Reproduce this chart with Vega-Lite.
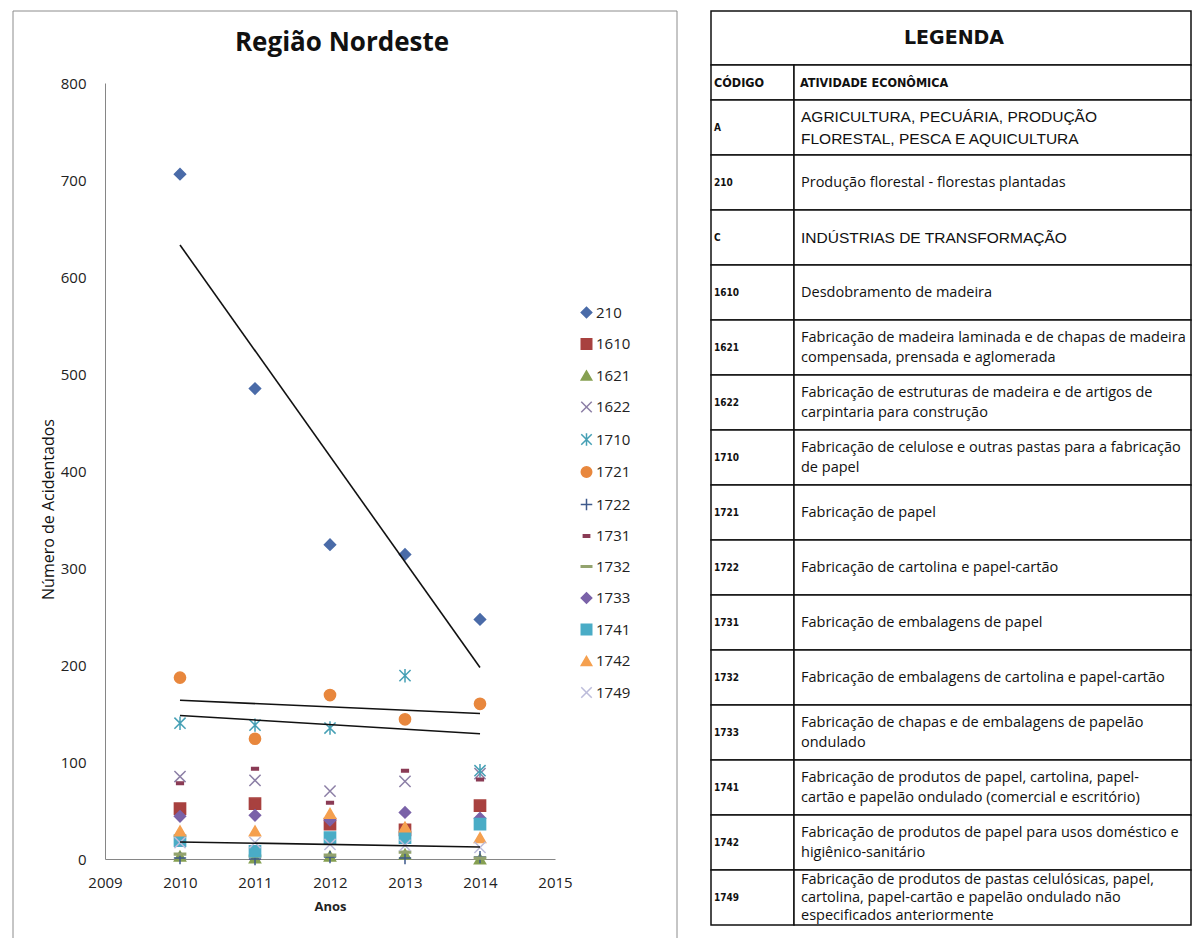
{
  "$schema": "https://vega.github.io/schema/vega-lite/v6.json",
  "padding": {"left": 12, "top": 10, "right": 0, "bottom": 0},
  "background": "white",
  "config": {
    "view": {"stroke": null},
    "font": "Open Sans",
    "axis": {"labelFont": "Open Sans", "titleFont": "Open Sans"},
    "legend": {"labelFont": "Open Sans"}
  },
  "datasets": {
    "acidentes": [
      {"codigo": "210", "ano": 2010, "acidentes": 706},
      {"codigo": "210", "ano": 2011, "acidentes": 485},
      {"codigo": "210", "ano": 2012, "acidentes": 324},
      {"codigo": "210", "ano": 2013, "acidentes": 314},
      {"codigo": "210", "ano": 2014, "acidentes": 247},
      {"codigo": "1610", "ano": 2010, "acidentes": 52},
      {"codigo": "1610", "ano": 2011, "acidentes": 57},
      {"codigo": "1610", "ano": 2012, "acidentes": 36},
      {"codigo": "1610", "ano": 2013, "acidentes": 30},
      {"codigo": "1610", "ano": 2014, "acidentes": 55},
      {"codigo": "1621", "ano": 2010, "acidentes": 3},
      {"codigo": "1621", "ano": 2011, "acidentes": 1},
      {"codigo": "1621", "ano": 2012, "acidentes": 3},
      {"codigo": "1621", "ano": 2013, "acidentes": 5},
      {"codigo": "1621", "ano": 2014, "acidentes": 0},
      {"codigo": "1622", "ano": 2010, "acidentes": 85},
      {"codigo": "1622", "ano": 2011, "acidentes": 81},
      {"codigo": "1622", "ano": 2012, "acidentes": 70},
      {"codigo": "1622", "ano": 2013, "acidentes": 80},
      {"codigo": "1622", "ano": 2014, "acidentes": 88},
      {"codigo": "1710", "ano": 2010, "acidentes": 140},
      {"codigo": "1710", "ano": 2011, "acidentes": 138},
      {"codigo": "1710", "ano": 2012, "acidentes": 135},
      {"codigo": "1710", "ano": 2013, "acidentes": 189},
      {"codigo": "1710", "ano": 2014, "acidentes": 91},
      {"codigo": "1721", "ano": 2010, "acidentes": 187},
      {"codigo": "1721", "ano": 2011, "acidentes": 124},
      {"codigo": "1721", "ano": 2012, "acidentes": 169},
      {"codigo": "1721", "ano": 2013, "acidentes": 144},
      {"codigo": "1721", "ano": 2014, "acidentes": 160},
      {"codigo": "1722", "ano": 2010, "acidentes": 1},
      {"codigo": "1722", "ano": 2011, "acidentes": 0},
      {"codigo": "1722", "ano": 2012, "acidentes": 2},
      {"codigo": "1722", "ano": 2013, "acidentes": 1},
      {"codigo": "1722", "ano": 2014, "acidentes": 2},
      {"codigo": "1731", "ano": 2010, "acidentes": 78},
      {"codigo": "1731", "ano": 2011, "acidentes": 93},
      {"codigo": "1731", "ano": 2012, "acidentes": 58},
      {"codigo": "1731", "ano": 2013, "acidentes": 91},
      {"codigo": "1731", "ano": 2014, "acidentes": 82},
      {"codigo": "1732", "ano": 2010, "acidentes": 5},
      {"codigo": "1732", "ano": 2011, "acidentes": 3},
      {"codigo": "1732", "ano": 2012, "acidentes": 4},
      {"codigo": "1732", "ano": 2013, "acidentes": 7},
      {"codigo": "1732", "ano": 2014, "acidentes": 1},
      {"codigo": "1733", "ano": 2010, "acidentes": 44},
      {"codigo": "1733", "ano": 2011, "acidentes": 45},
      {"codigo": "1733", "ano": 2012, "acidentes": 40},
      {"codigo": "1733", "ano": 2013, "acidentes": 48},
      {"codigo": "1733", "ano": 2014, "acidentes": 42},
      {"codigo": "1741", "ano": 2010, "acidentes": 19},
      {"codigo": "1741", "ano": 2011, "acidentes": 8},
      {"codigo": "1741", "ano": 2012, "acidentes": 22},
      {"codigo": "1741", "ano": 2013, "acidentes": 22},
      {"codigo": "1741", "ano": 2014, "acidentes": 36},
      {"codigo": "1742", "ano": 2010, "acidentes": 29},
      {"codigo": "1742", "ano": 2011, "acidentes": 29},
      {"codigo": "1742", "ano": 2012, "acidentes": 47},
      {"codigo": "1742", "ano": 2013, "acidentes": 33},
      {"codigo": "1742", "ano": 2014, "acidentes": 22},
      {"codigo": "1749", "ano": 2010, "acidentes": 17},
      {"codigo": "1749", "ano": 2011, "acidentes": 17},
      {"codigo": "1749", "ano": 2012, "acidentes": 15},
      {"codigo": "1749", "ano": 2013, "acidentes": 14},
      {"codigo": "1749", "ano": 2014, "acidentes": 12}
    ],
    "legenda": [
      {"codigo": "A", "atividade": "AGRICULTURA, PECUÁRIA, PRODUÇÃO\nFLORESTAL, PESCA E AQUICULTURA", "nivel": "seção"},
      {"codigo": "210", "atividade": "Produção florestal - florestas plantadas", "nivel": "classe"},
      {"codigo": "C", "atividade": "INDÚSTRIAS DE TRANSFORMAÇÃO", "nivel": "seção"},
      {"codigo": "1610", "atividade": "Desdobramento de madeira", "nivel": "classe"},
      {"codigo": "1621", "atividade": "Fabricação de madeira laminada e de chapas de madeira\ncompensada, prensada e aglomerada", "nivel": "classe"},
      {"codigo": "1622", "atividade": "Fabricação de estruturas de madeira e de artigos de\ncarpintaria para construção", "nivel": "classe"},
      {"codigo": "1710", "atividade": "Fabricação de celulose e outras pastas para a fabricação\nde papel", "nivel": "classe"},
      {"codigo": "1721", "atividade": "Fabricação de papel", "nivel": "classe"},
      {"codigo": "1722", "atividade": "Fabricação de cartolina e papel-cartão", "nivel": "classe"},
      {"codigo": "1731", "atividade": "Fabricação de embalagens de papel", "nivel": "classe"},
      {"codigo": "1732", "atividade": "Fabricação de embalagens de cartolina e papel-cartão", "nivel": "classe"},
      {"codigo": "1733", "atividade": "Fabricação de chapas e de embalagens de papelão\nondulado", "nivel": "classe"},
      {"codigo": "1741", "atividade": "Fabricação de produtos de papel, cartolina, papel-\ncartão e papelão ondulado (comercial e escritório)", "nivel": "classe"},
      {"codigo": "1742", "atividade": "Fabricação de produtos de papel para usos doméstico e\nhigiênico-sanitário", "nivel": "classe"},
      {"codigo": "1749", "atividade": "Fabricação de produtos de pastas celulósicas, papel,\ncartolina, papel-cartão e papelão ondulado não\nespecificados anteriormente", "nivel": "classe"}
    ]
  },
  "spacing": 32,
  "hconcat": [
    {
      "spacing": 0,
      "bounds": "flush",
      "vconcat": [
        {
          "width": 450,
          "height": 72,
          "data": {"values": [{"titulo": "Região Nordeste"}]},
          "layer": [
            {
              "mark": {"type": "rect", "x": -92, "x2": 572, "y": 0, "y2": 945, "fill": "transparent", "stroke": "#8c8c8c", "strokeWidth": 1},
              "encoding": {}
            },
            {
              "mark": {"type": "text", "fontWeight": "bold", "fontSize": 26, "align": "center", "baseline": "middle", "color": "#111"},
              "encoding": {"text": {"field": "titulo"}, "x": {"value": 237}, "y": {"value": 32}}
            }
          ]
        },
        {
          "width": 450,
          "height": 776,
          "data": {"name": "acidentes"},
          "encoding": {
            "x": {
              "field": "ano", "type": "quantitative",
              "scale": {"domain": [2009, 2015], "nice": false, "zero": false},
              "axis": {
                "title": "Anos", "values": [2009, 2010, 2011, 2012, 2013, 2014, 2015], "format": "d",
                "grid": false, "ticks": false, "labelFlush": false, "domainColor": "#868686",
                "labelFontSize": 15, "labelColor": "#222", "labelPadding": 16,
                "titleFontSize": 13, "titleFontWeight": "bold", "titleColor": "#222", "titlePadding": 10
              }
            },
            "y": {
              "field": "acidentes", "type": "quantitative",
              "scale": {"domain": [0, 800], "nice": false},
              "axis": {
                "title": "Número de Acidentados", "values": [0, 100, 200, 300, 400, 500, 600, 700, 800], "format": "d",
                "grid": false, "ticks": false, "domainColor": "#868686",
                "labelFontSize": 15, "labelColor": "#222", "labelPadding": 19,
                "titleFontSize": 16, "titleFontWeight": "normal", "titleColor": "#111",
                "titleX": -57, "titleY": 426, "titleBaseline": "middle", "titleAlign": "center"
              }
            }
          },
          "layer": [
            {
              "mark": {"type": "point", "filled": true, "opacity": 1, "size": 125, "strokeWidth": 1.5},
              "encoding": {
                "fill": {
                  "field": "codigo", "type": "nominal",
                  "scale": {
                    "domain": ["210", "1610", "1621", "1622", "1710", "1721", "1722", "1731", "1732", "1733", "1741", "1742", "1749"],
                    "range": ["#4a6ba8", "#a8413f", "#86a052", "#8c7fa6", "#46a0b5", "#e8873d", "#3e5a8c", "#8a3b55", "#93a36e", "#7a62a8", "#4aacc6", "#f5a04f", "#bcbcda"]
                  },
                  "legend": {"title": null, "orient": "none", "legendX": 474, "legendY": 294, "labelFontSize": 15, "labelColor": "#222", "symbolSize": 110, "symbolStrokeWidth": 1.5, "rowPadding": 14.5, "labelOffset": 2, "padding": 0}
                },
                "stroke": {
                  "field": "codigo", "type": "nominal",
                  "scale": {
                    "domain": ["210", "1610", "1621", "1622", "1710", "1721", "1722", "1731", "1732", "1733", "1741", "1742", "1749"],
                    "range": ["#4a6ba8", "#a8413f", "#86a052", "#8c7fa6", "#46a0b5", "#e8873d", "#3e5a8c", "#8a3b55", "#93a36e", "#7a62a8", "#4aacc6", "#f5a04f", "#bcbcda"]
                  },
                  "legend": {"title": null, "orient": "none", "legendX": 474, "legendY": 294, "labelFontSize": 15, "labelColor": "#222", "symbolSize": 110, "symbolStrokeWidth": 1.5, "rowPadding": 14.5, "labelOffset": 2, "padding": 0}
                },
                "shape": {
                  "field": "codigo", "type": "nominal",
                  "scale": {
                    "domain": ["210", "1610", "1621", "1622", "1710", "1721", "1722", "1731", "1732", "1733", "1741", "1742", "1749"],
                    "range": ["diamond", "square", "triangle-up", "M-1,-1L1,1M1,-1L-1,1", "M-1,-1L1,1M1,-1L-1,1M0,-1.2L0,1.2", "circle", "M-1.1,0L1.1,0M0,-1.1L0,1.1", "M-0.6,-0.22L0.6,-0.22L0.6,0.22L-0.6,0.22Z", "M-1,-0.16L1,-0.16L1,0.16L-1,0.16Z", "diamond", "square", "triangle-up", "M-1,-1L1,1M1,-1L-1,1"]
                  },
                  "legend": {"title": null, "orient": "none", "legendX": 474, "legendY": 294, "labelFontSize": 15, "labelColor": "#222", "symbolSize": 110, "symbolStrokeWidth": 1.5, "rowPadding": 14.5, "labelOffset": 2, "padding": 0}
                }
              }
            },
            {
              "transform": [
                {"filter": {"field": "codigo", "oneOf": ["210", "1710", "1721", "1749"]}},
                {"regression": "acidentes", "on": "ano", "groupby": ["codigo"], "extent": [2010, 2014]}
              ],
              "mark": {"type": "line", "color": "#111", "strokeWidth": 1.6},
              "encoding": {"detail": {"field": "codigo", "type": "nominal"}}
            }
          ]
        }
      ]
    },
    {
      "spacing": 0,
      "bounds": "flush",
      "vconcat": [
        {
          "width": 480,
          "height": 54,
          "data": {"values": [{"titulo": "LEGENDA"}]},
          "encoding": {"y": {"field": "titulo", "type": "ordinal", "scale": {"paddingInner": 0, "paddingOuter": 0}, "axis": null}},
          "layer": [
            {
              "mark": {"type": "rect", "fill": "white", "stroke": "#111", "strokeWidth": 1.5},
              "encoding": {"x": {"value": 0}, "x2": {"value": 480}}
            },
            {
              "mark": {"type": "text", "font": "DejaVu Sans", "fontWeight": "bold", "fontSize": 19, "align": "center", "baseline": "middle", "color": "#111"},
              "encoding": {"text": {"field": "titulo"}, "x": {"value": 243}}
            }
          ]
        },
        {
          "width": 480,
          "height": 35,
          "data": {"values": [{"codigo": "CÓDIGO", "atividade": "ATIVIDADE ECONÔMICA"}]},
          "encoding": {"y": {"field": "codigo", "type": "ordinal", "scale": {"paddingInner": 0, "paddingOuter": 0}, "axis": null}},
          "layer": [
            {
              "mark": {"type": "rect", "fill": "white", "stroke": "#111", "strokeWidth": 1.5},
              "encoding": {"x": {"value": 0}, "x2": {"value": 83}}
            },
            {
              "mark": {"type": "rect", "fill": "white", "stroke": "#111", "strokeWidth": 1.5},
              "encoding": {"x": {"value": 83}, "x2": {"value": 480}}
            },
            {
              "mark": {"type": "text", "font": "DejaVu Sans Condensed", "fontWeight": "bold", "fontSize": 12.5, "align": "left", "baseline": "middle", "color": "#111"},
              "encoding": {"text": {"field": "codigo"}, "x": {"value": 3}}
            },
            {
              "mark": {"type": "text", "font": "DejaVu Sans Condensed", "fontWeight": "bold", "fontSize": 12.5, "align": "left", "baseline": "middle", "color": "#111"},
              "encoding": {"text": {"field": "atividade"}, "x": {"value": 89}}
            }
          ]
        },
        {
          "width": 480,
          "height": 825,
          "data": {"name": "legenda"},
          "encoding": {"y": {"field": "codigo", "type": "ordinal", "sort": null, "scale": {"paddingInner": 0, "paddingOuter": 0}, "axis": null}},
          "layer": [
            {
              "mark": {"type": "rect", "fill": "white", "stroke": "#111", "strokeWidth": 1.5},
              "encoding": {"x": {"value": 0}, "x2": {"value": 83}}
            },
            {
              "mark": {"type": "rect", "fill": "white", "stroke": "#111", "strokeWidth": 1.5},
              "encoding": {"x": {"value": 83}, "x2": {"value": 480}}
            },
            {
              "mark": {"type": "text", "font": "DejaVu Sans Condensed", "fontWeight": "bold", "fontSize": 10, "align": "left", "baseline": "middle", "color": "#111"},
              "encoding": {"text": {"field": "codigo"}, "x": {"value": 3}}
            },
            {
              "transform": [{"filter": "datum.nivel == 'classe' && length(split(datum.atividade, '\\n')) == 1"}],
              "mark": {"type": "text", "font": "Open Sans", "fontSize": 14.5, "align": "left", "baseline": "middle", "lineBreak": "\n", "lineHeight": 20, "color": "#111"},
              "encoding": {"text": {"field": "atividade"}, "x": {"value": 90}}
            },
            {
              "transform": [{"filter": "datum.nivel == 'classe' && length(split(datum.atividade, '\\n')) == 2"}],
              "mark": {"type": "text", "font": "Open Sans", "fontSize": 14.5, "align": "left", "baseline": "middle", "lineBreak": "\n", "lineHeight": 20, "dy": -10, "color": "#111"},
              "encoding": {"text": {"field": "atividade"}, "x": {"value": 90}}
            },
            {
              "transform": [{"filter": "datum.nivel == 'classe' && length(split(datum.atividade, '\\n')) == 3"}],
              "mark": {"type": "text", "font": "Open Sans", "fontSize": 14.5, "align": "left", "baseline": "middle", "lineBreak": "\n", "lineHeight": 18, "dy": -18, "color": "#111"},
              "encoding": {"text": {"field": "atividade"}, "x": {"value": 90}}
            },
            {
              "transform": [{"filter": "datum.nivel == 'seção' && length(split(datum.atividade, '\\n')) == 1"}],
              "mark": {"type": "text", "font": "Liberation Sans", "fontSize": 15.5, "align": "left", "baseline": "middle", "color": "#111"},
              "encoding": {"text": {"field": "atividade"}, "x": {"value": 90}}
            },
            {
              "transform": [{"filter": "datum.nivel == 'seção' && length(split(datum.atividade, '\\n')) == 2"}],
              "mark": {"type": "text", "font": "Liberation Sans", "fontSize": 15.5, "align": "left", "baseline": "middle", "lineBreak": "\n", "lineHeight": 22, "dy": -11, "color": "#111"},
              "encoding": {"text": {"field": "atividade"}, "x": {"value": 90}}
            }
          ]
        }
      ]
    }
  ]
}
